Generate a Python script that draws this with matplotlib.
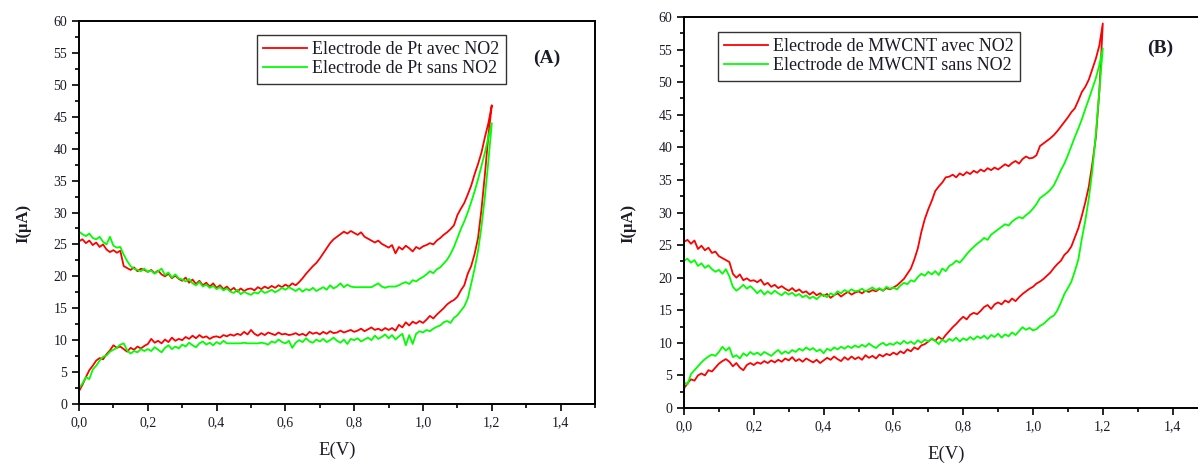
import numpy as np
import matplotlib
matplotlib.use("Agg")
import matplotlib.pyplot as plt
from matplotlib.ticker import MultipleLocator, FuncFormatter

plt.rcParams['font.family'] = ['Liberation Serif', 'DejaVu Serif']

# Potential grid (V), 0.00 .. 1.20 step 0.01
E = np.round(np.arange(0, 121) * 0.01, 2)

# ---------- Panel A : Pt electrode ----------
A_red_fwd = [
    2.0, 3.0, 4.2, 5.3, 6.0, 6.8, 7.2, 7.0, 7.8, 8.4,
    9.2, 8.8, 9.0, 8.6, 8.2, 8.8, 8.5, 9.0, 8.7, 9.1,
    9.4, 10.2, 9.6, 9.9, 9.5, 10.1, 9.7, 10.4, 9.9, 10.2,
    10.0, 10.5, 10.2, 10.7, 10.3, 10.8, 10.4, 10.6, 10.2, 10.5,
    10.6, 10.4, 10.8, 10.6, 10.9, 10.7, 11.0, 10.8, 11.3, 10.9,
    11.6, 11.0, 10.7, 11.1, 10.8, 11.2, 11.0, 10.8, 11.2, 10.9,
    11.0, 10.8, 10.9, 11.1, 10.8, 11.0, 10.7, 11.3, 11.0, 11.2,
    10.9, 11.3, 11.0, 11.4, 11.1, 11.2, 11.5, 11.2, 11.4, 11.6,
    11.3, 11.5, 11.8, 11.4, 11.7, 12.0, 11.6, 11.8, 11.5, 11.9,
    11.6, 11.9, 11.5, 12.4, 12.0, 12.8, 12.3, 12.9, 12.6, 13.0,
    12.7, 13.2, 13.8, 13.4, 14.0, 14.5, 15.0, 15.6, 16.0, 16.3,
    16.8, 17.8, 18.6, 20.4, 21.6, 23.5, 26.0, 30.5, 36.0, 42.0,
    46.8]
A_red_rev = [
    25.5, 25.8, 25.2, 25.6, 24.9, 25.3, 24.6, 25.0, 24.2, 23.8,
    24.1, 23.7, 24.0, 21.6, 21.3, 21.0, 21.4, 20.8, 21.2, 21.0,
    20.7, 21.0, 20.5, 20.9, 20.3, 20.0, 20.4, 19.7, 20.1, 19.6,
    19.3, 19.8, 19.0, 19.5, 18.8, 19.3, 18.6, 19.0, 18.4, 18.9,
    18.2, 18.6, 18.0, 18.4, 17.8, 18.2, 17.6, 18.1, 17.7, 18.0,
    18.1, 17.8, 18.3, 18.0, 18.4, 18.1, 18.5, 18.2, 18.6, 18.3,
    18.7, 18.4, 18.9, 18.6, 19.1, 19.7, 20.4, 21.0, 21.6, 22.1,
    22.8, 23.6, 24.4, 25.2, 25.8, 26.2, 26.6, 27.0, 26.7, 27.1,
    26.8, 26.5, 26.9, 26.2, 25.9, 25.6, 25.3, 25.6, 25.1, 24.8,
    24.5, 24.9, 23.6, 24.6, 24.2, 24.8, 24.4, 23.9, 24.6, 24.3,
    24.7, 24.9, 25.2, 25.0, 25.6, 26.0, 26.5, 26.9, 27.4, 28.0,
    29.6, 30.6, 31.5, 32.8, 34.2, 36.0, 37.6, 39.4, 41.8, 44.0,
    46.8]
A_green_fwd = [
    2.5, 3.2, 4.2, 3.9, 5.4, 6.0, 6.8, 7.4, 7.6, 8.2,
    8.5, 8.8, 9.3, 9.5, 8.4, 7.9, 8.3, 8.1, 8.6, 8.3,
    8.6, 8.3, 8.9, 8.5, 8.1, 8.8, 9.2, 8.6, 9.0, 8.7,
    9.3, 9.0, 9.6, 9.2, 8.9, 9.5, 9.8, 9.3, 9.6, 9.2,
    9.7, 9.4, 9.9, 9.5, 9.5, 9.5, 9.5, 9.5, 9.6, 9.5,
    9.5, 9.5, 9.5, 9.6, 9.5, 9.3, 9.8, 9.6, 10.1, 9.7,
    9.5, 9.9, 8.8, 9.6, 10.0, 9.7, 10.3, 9.8, 9.6, 10.1,
    9.8, 10.2, 9.7, 10.0, 10.4, 9.9, 9.6, 10.1, 9.4, 10.2,
    10.0, 10.3, 9.8, 10.1, 10.4, 10.0, 10.7, 10.2, 10.5, 10.9,
    10.3, 10.8, 10.1, 10.6, 11.0, 9.2, 10.8, 9.4, 11.0, 11.4,
    11.2, 11.6, 11.4, 11.8, 12.1, 12.3, 12.8, 13.0, 12.7, 13.5,
    13.9, 14.6, 15.3, 16.5, 18.8, 21.2, 24.0, 27.8, 32.5, 38.0,
    44.0]
A_green_rev = [
    27.0, 26.6, 26.3, 26.7, 26.0, 25.8, 26.2, 25.4, 25.0, 26.2,
    24.8, 24.5, 24.6, 23.4, 22.4, 21.6, 21.2, 21.0, 20.8, 21.2,
    20.7, 20.9, 20.4, 20.8, 21.2, 20.2, 20.6, 19.8, 20.3, 19.7,
    19.5, 19.2, 19.6, 18.9, 18.6, 19.1, 18.4, 18.7, 18.2, 18.5,
    18.0, 18.3, 17.8, 18.1, 17.6, 17.4, 17.9, 17.2, 17.6, 17.3,
    17.1, 17.5, 17.3, 17.8, 17.4, 17.6, 17.9, 17.5, 17.8, 18.2,
    17.9, 18.3, 18.0, 17.7, 18.1, 17.6, 18.0, 17.8, 18.2, 17.7,
    18.0, 18.3, 17.9, 18.6, 18.1, 18.4, 18.9, 18.3, 18.7, 18.4,
    18.3, 18.3, 18.3, 18.3, 18.3, 18.3, 18.6, 18.9, 18.4, 18.2,
    18.4, 18.4, 18.4, 18.6, 18.9, 19.1, 18.8, 19.4, 19.2, 19.6,
    19.9, 20.3, 20.8, 20.5, 21.1, 21.4, 22.0, 22.6, 23.5, 24.6,
    26.0, 27.4, 28.6, 30.0, 31.6, 33.3, 35.2, 37.3, 39.4, 41.8,
    44.0]

# ---------- Panel B : MWCNT electrode ----------
B_red_fwd = [
    3.0, 3.8, 4.4, 4.2, 5.0, 5.3, 5.0, 5.8, 5.6, 6.2,
    6.8, 7.2, 7.5, 7.1, 6.4, 6.9, 6.2, 5.8, 6.6, 6.9,
    6.6, 7.0, 6.8, 7.2, 6.9, 7.3, 7.0, 7.4, 7.1, 7.6,
    7.3, 7.8, 7.2, 7.5, 7.1, 7.6, 7.3, 7.0, 7.4, 6.9,
    7.3, 7.7, 7.4, 7.9, 7.5, 7.2, 7.8, 7.4, 7.9, 7.5,
    7.8, 7.4, 8.1, 7.7, 8.0, 7.6, 8.2, 7.9, 8.3, 8.1,
    8.5, 8.2, 8.7, 8.4, 9.0, 8.7, 9.3, 9.0, 9.6, 9.8,
    10.2, 10.6, 10.3, 10.9, 10.5, 11.2, 11.8, 12.4, 12.9, 13.5,
    14.0, 13.6, 14.3, 14.6, 14.4, 14.9, 15.5, 15.8, 15.2, 15.9,
    16.2, 15.9, 16.5, 16.2, 16.8, 16.4, 17.0, 17.5, 17.9, 18.3,
    18.6, 19.1, 19.4, 19.8, 20.3, 20.8, 21.5, 22.1, 22.6, 23.5,
    24.0, 24.8, 26.2, 27.6, 29.5, 31.6, 34.0, 37.5, 41.5, 48.5,
    59.0]
B_red_rev = [
    25.5, 25.8, 25.2, 25.7, 24.4, 24.9, 24.2, 24.6, 23.8, 24.0,
    23.3, 23.0, 22.7, 22.4, 20.6, 20.0, 20.5, 19.6, 19.9, 19.5,
    19.6, 19.3, 19.7, 18.9, 19.2, 18.6, 18.9, 18.4, 18.7, 18.3,
    18.0, 18.4, 17.9, 18.2, 17.7, 17.9, 17.4, 17.8, 17.3, 17.6,
    17.2, 17.5, 16.9, 17.3, 17.6, 17.1, 17.5, 17.8, 17.4, 17.7,
    17.9, 17.6, 18.0, 17.8, 18.1, 17.9, 18.3, 18.0, 18.4, 18.2,
    18.5, 18.8, 19.3, 19.8, 20.6, 21.4, 22.8, 24.5, 27.0, 29.0,
    30.5, 31.8, 33.3, 34.0, 34.6, 35.4, 35.5, 35.8, 35.4, 36.0,
    35.7, 36.2, 35.9, 36.4, 36.1, 36.6, 36.3, 36.8, 36.5, 36.9,
    36.6, 37.0, 37.4, 37.1, 37.6, 37.9, 37.5, 38.2, 38.6, 38.3,
    38.4, 38.8, 40.2, 40.6, 41.0, 41.4, 41.9, 42.5, 43.2, 43.9,
    44.6, 45.4, 46.0, 47.2, 48.5, 49.3, 50.4, 52.0, 53.6, 55.6,
    59.0]
B_green_fwd = [
    4.0, 3.6, 5.2, 5.8, 6.4, 7.0, 7.5, 7.9, 8.2, 8.0,
    8.6, 9.4, 8.8, 9.3, 7.8, 8.1, 7.6, 8.4, 8.0, 8.6,
    8.2, 8.5, 8.1, 8.6, 8.3, 8.0, 8.5, 8.9, 8.3, 8.7,
    8.4, 8.9, 8.6, 9.1, 8.8, 9.3, 8.9, 9.2, 8.7, 9.0,
    8.4, 9.1, 8.8, 9.3, 9.0, 9.4, 9.1, 9.5, 9.2, 9.6,
    9.3, 9.7, 9.4, 9.9, 9.5, 9.2, 9.7, 10.0, 9.6, 9.9,
    9.7, 10.1, 9.8, 10.3, 9.9, 10.2, 9.8, 10.4, 10.0, 10.5,
    10.2, 10.7, 10.3, 9.8, 10.5, 10.1, 10.6, 10.3, 10.8, 10.2,
    10.7, 10.4, 10.9, 10.5, 11.0, 10.7, 11.1, 10.6, 11.2, 10.9,
    11.4, 10.8, 11.3, 11.0, 11.6, 11.2, 11.8, 12.4, 12.0, 12.3,
    11.9, 12.1, 12.6, 12.9, 13.4, 13.9, 14.2, 15.0, 16.2, 17.5,
    18.4, 19.4, 21.0, 22.8, 26.0, 28.8, 32.2, 36.4, 42.0, 48.5,
    55.2]
B_green_rev = [
    22.6, 22.9, 22.3, 22.7, 21.8, 22.2, 21.5, 21.9, 21.3, 20.9,
    21.2, 20.6, 21.3, 20.2, 18.6, 18.0, 18.4, 18.9, 18.3, 18.7,
    18.2, 17.6, 18.1, 17.4, 17.9, 17.5, 18.0, 17.6, 17.3, 17.8,
    17.4, 17.7, 17.2, 17.5, 17.0, 17.3, 16.8, 17.1, 16.7, 17.2,
    17.4, 17.0, 17.6, 17.3, 17.9, 17.6, 18.1, 17.8, 18.2, 17.9,
    18.0, 18.3, 17.9, 18.2, 18.5, 18.1, 18.4, 18.0, 18.6, 18.3,
    18.5, 18.2, 18.8, 19.2, 19.0, 19.6, 19.4, 20.1, 20.6, 20.3,
    20.9, 20.5, 21.0, 20.4, 21.4, 21.0, 21.8, 22.1, 22.6, 22.3,
    22.9, 23.6, 24.2, 24.7, 25.2, 25.6, 26.1, 25.8, 26.6, 27.0,
    27.4, 27.8, 28.2, 28.0, 28.6, 29.0, 29.3, 29.1, 29.6, 30.0,
    30.6, 31.3, 32.2, 32.6, 33.0, 33.5, 34.2, 35.3, 36.5, 37.5,
    38.8, 40.2, 41.6, 42.9, 44.3, 45.9, 47.4, 49.0, 50.6, 52.6,
    55.2]

labels_A = ["Electrode de Pt avec NO2", "Electrode de Pt sans NO2"]
labels_B = ["Electrode de MWCNT avec NO2", "Electrode de MWCNT sans NO2"]
x_ticks = [0.0, 0.2, 0.4, 0.6, 0.8, 1.0, 1.2, 1.4]
y_ticks = [0, 5, 10, 15, 20, 25, 30, 35, 40, 45, 50, 55, 60]

RED = '#ff0000'
GREEN = '#00ff00'
TXT = '#1c1c28'

W, H = 1198, 463
fig = plt.figure(figsize=(W / 100, H / 100), dpi=100)


def px_axes(l, t, r, b):
    return fig.add_axes([l / W, 1 - b / H, (r - l) / W, (b - t) / H])


axA = px_axes(79, 21, 595, 404)
axB = px_axes(684, 17, 684 + 1.5 * 349, 408)


def loop(fwd, rev):
    x = np.concatenate([E, E[::-1]])
    y = np.concatenate([np.asarray(fwd), np.asarray(rev)[::-1]])
    return x, y


comma = FuncFormatter(lambda v, p: f"{v:.1f}".replace('.', ','))

for ax, rf, rr, gf, gr, labs in [
        (axA, A_red_fwd, A_red_rev, A_green_fwd, A_green_rev, labels_A),
        (axB, B_red_fwd, B_red_rev, B_green_fwd, B_green_rev, labels_B)]:
    xr, yr = loop(rf, rr)
    xg, yg = loop(gf, gr)
    ax.plot(xr, yr, color=RED, lw=1.3, label=labs[0])
    ax.plot(xg, yg, color=GREEN, lw=1.3, label=labs[1])
    ax.set_xlim(0, 1.5)
    ax.set_ylim(0, 60)
    ax.set_xticks(x_ticks)
    ax.set_yticks(y_ticks)
    ax.xaxis.set_minor_locator(MultipleLocator(0.1))
    ax.yaxis.set_minor_locator(MultipleLocator(2.5))
    ax.xaxis.set_major_formatter(comma)
    ax.tick_params(which='both', direction='out', width=1.2, color='black',
                   labelcolor=TXT, labelsize=10, top=False, right=False)
    ax.tick_params(which='major', length=5)
    ax.tick_params(which='minor', length=3)
    for s in ax.spines.values():
        s.set_linewidth(1.4)
    ax.set_xlabel("E(V)", fontsize=13.5, color=TXT, labelpad=9)
    ax.set_ylabel("I(µA)", fontsize=12, fontweight='bold', color=TXT)

axA.yaxis.set_label_coords((31 - 79) / 516, 1 - (223 - 21) / 383)
axB.yaxis.set_label_coords((636 - 684) / (1.5 * 349), 1 - (223 - 17) / 391)

leg_kw = dict(fontsize=13, frameon=True, fancybox=False, edgecolor='black',
              handlelength=2.4, handletextpad=0.3, borderpad=0.35,
              labelspacing=0.12, borderaxespad=0, labelcolor=TXT)

legA = axA.legend(loc='upper left', bbox_to_anchor=((257 - 79) / 516, 1 - (35 - 21) / 383), **leg_kw)
legA.get_frame().set_linewidth(1.0)
axA.text((547 - 79) / 516, 1 - (58 - 21) / 383, "(A)", transform=axA.transAxes,
         fontsize=14, fontweight='bold', color=TXT, ha='center', va='center')

wB = 1.5 * 349
legB = axB.legend(loc='upper left', bbox_to_anchor=((718 - 684) / wB, 1 - (32 - 17) / 391), **leg_kw)
legB.get_frame().set_linewidth(1.0)
axB.text((1160 - 684) / wB, 1 - (48 - 17) / 391, "(B)", transform=axB.transAxes,
         fontsize=14, fontweight='bold', color=TXT, ha='center', va='center')

fig.savefig("out.png", dpi=100)
